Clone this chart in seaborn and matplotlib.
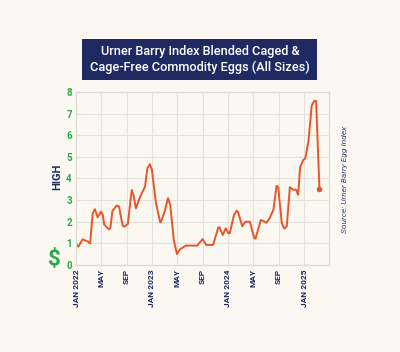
import matplotlib
matplotlib.use("Agg")
import matplotlib.pyplot as plt
from matplotlib.patches import Rectangle
import pandas as pd
import seaborn as sns

dates = ["2022-01-03", "2022-01-12", "2022-02-02", "2022-02-28", "2022-03-10", "2022-03-22",
         "2022-04-02", "2022-04-15", "2022-05-01", "2022-05-10", "2022-05-16", "2022-06-08",
         "2022-06-15", "2022-06-25", "2022-07-16", "2022-07-27", "2022-08-13", "2022-08-22",
         "2022-09-07", "2022-09-26", "2022-10-04", "2022-10-16", "2022-11-04", "2022-11-29",
         "2022-12-10", "2022-12-22", "2023-01-01", "2023-01-19", "2023-02-09", "2023-02-12",
         "2023-03-03", "2023-03-19", "2023-03-30", "2023-04-16", "2023-05-01", "2023-05-16",
         "2023-06-13", "2023-08-07", "2023-09-01", "2023-09-19", "2023-10-22", "2023-11-16",
         "2023-11-22", "2023-12-07", "2023-12-22", "2024-01-03", "2024-01-10", "2024-01-30",
         "2024-02-12", "2024-02-18", "2024-03-10", "2024-03-25", "2024-04-16", "2024-05-07",
         "2024-05-13", "2024-06-07", "2024-06-19", "2024-07-04", "2024-07-19", "2024-08-07",
         "2024-08-22", "2024-08-30", "2024-09-16", "2024-09-28", "2024-10-10", "2024-10-25",
         "2024-11-10", "2024-11-24", "2024-12-04", "2024-12-13", "2024-12-28", "2025-01-07",
         "2025-01-22", "2025-02-07", "2025-02-20", "2025-02-28", "2025-03-16"]
prices = [0.96, 0.85, 1.19, 1.08, 1.00, 2.39,
          2.58, 2.20, 2.47, 2.31, 1.88, 1.65,
          1.70, 2.50, 2.75, 2.70, 1.82, 1.77,
          1.90, 3.47, 3.24, 2.62, 3.13, 3.63,
          4.47, 4.66, 4.40, 2.93, 2.00, 1.97,
          2.47, 3.09, 2.78, 1.16, 0.51, 0.73,
          0.90, 0.90, 1.20, 0.93, 0.93, 1.74,
          1.74, 1.39, 1.70, 1.47, 1.47, 2.31,
          2.51, 2.47, 1.80, 2.00, 2.00, 1.23,
          1.23, 2.08, 2.04, 1.95, 2.15, 2.56,
          3.66, 3.60, 1.94, 1.68, 1.79, 3.60,
          3.48, 3.48, 3.25, 4.52, 4.85, 4.93,
          5.70, 7.38, 7.58, 7.58, 3.52]

tick_dates = ["2022-01-01", "2022-05-01", "2022-09-01", "2023-01-01", "2023-05-01",
              "2023-09-01", "2024-01-01", "2024-05-01", "2024-09-01", "2025-01-01"]
tick_labels = ["JAN 2022", "MAY", "SEP", "JAN 2023", "MAY", "SEP", "JAN 2024", "MAY", "SEP", "JAN 2025"]
y_ticks = [0, 1, 2, 3, 4, 5, 6, 7, 8]

title_text = "Urner Barry Index Blended Caged &\nCage-Free Commodity Eggs (All Sizes)"
source_text = "Source: Urner Barry Egg Index"

BG = "#fbf8f1"
NAVY = "#1f2a63"
GREEN = "#2aa84a"
LINE = "#e8552a"

sns.set_theme(style="white")
plt.rcParams["font.family"] = ["Roboto", "DejaVu Sans"]

df = pd.DataFrame({"date": pd.to_datetime(dates), "price": prices})

fig = plt.figure(figsize=(4.0, 3.52), dpi=100, facecolor=BG)
ax = fig.add_axes([0.19, 0.247, 0.6325, 0.492])
ax.set_facecolor(BG)

sns.lineplot(data=df, x="date", y="price", ax=ax, color=LINE, linewidth=1.4)
ax.plot(df["date"].iloc[-1:], df["price"].iloc[-1:], "o", color=LINE, markersize=3)

ax.set_xlim(pd.Timestamp("2022-01-01"), pd.Timestamp("2025-05-01"))
ax.set_ylim(0, 8)
ax.set_xticks(pd.to_datetime(tick_dates))
ax.set_xticklabels(tick_labels, rotation=90, fontsize=6, color=NAVY, fontweight="bold",
                   va="top", ha="center")
ax.set_yticks(y_ticks)
ax.set_yticklabels([str(v) for v in y_ticks], fontsize=7, color=GREEN, fontweight="bold")
ax.tick_params(axis="both", length=0, pad=3)
ax.grid(True, color="#e4e1da", linewidth=0.8)
for s in ax.spines.values():
    s.set_color("#dddad3")
    s.set_linewidth(0.9)
ax.set_xlabel("")
ax.set_ylabel("")

fig.text(0.142, 0.497, "HIGH", rotation=90, ha="center", va="center", fontsize=8,
         fontweight="bold", color=NAVY)
fig.text(0.135, 0.262, "$", ha="center", va="center", fontsize=16, fontweight="bold", color=GREEN)

fig.patches.append(Rectangle((0.205, 1 - 80 / 352), 0.5875, 41 / 352, transform=fig.transFigure,
                             facecolor=NAVY, edgecolor="none", zorder=0))
fig.text(0.5, 1 - 59.5 / 352, title_text, ha="center", va="center", fontsize=9.2,
         fontweight="medium", color="white", linespacing=1.25)

fig.text(0.8625, 0.49, source_text, rotation=90, ha="center", va="center", fontsize=6,
         style="italic", color="#3a4478")

fig.savefig("out.png", dpi=100, facecolor=BG)
